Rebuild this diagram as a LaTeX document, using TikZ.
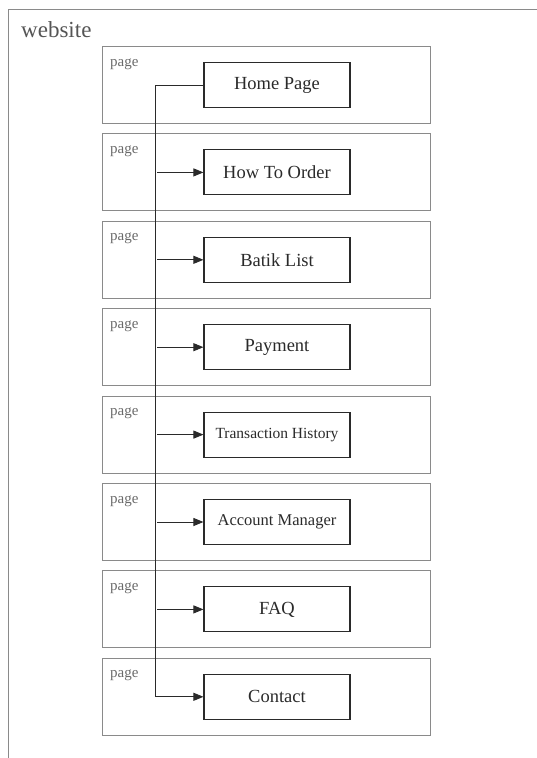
\documentclass[tikz,border=0pt]{standalone}
\usepackage{fontspec}
\setmainfont{Liberation Serif}
\usetikzlibrary{arrows.meta}
\definecolor{framegray}{HTML}{8A8A8A}
\definecolor{textgray}{HTML}{555555}
\definecolor{pagegray}{HTML}{6A6A6A}
\definecolor{inkdark}{HTML}{2A2A2A}
\begin{document}
\begin{tikzpicture}[x=1pt,y=-1pt,
  frameline/.style={draw=framegray, line width=1pt},
  pagebox/.style={draw=framegray, line width=1pt, minimum width=328pt, minimum height=77pt, anchor=north west, inner sep=0pt},
  pagelabel/.style={anchor=base west, text=pagegray, font=\fontsize{15}{15}\selectfont, inner sep=0pt},
  itembox/.style={draw=inkdark, line width=1.1pt, minimum width=146pt, minimum height=45pt, inner sep=0pt, text=inkdark},
  link/.style={draw=inkdark, line width=0.9pt},
  linkarrow/.style={link, -{Triangle[length=10pt,width=8pt]}}
]
\useasboundingbox (0,0) rectangle (536,758);
\draw[frameline] (8,758) -- (8,9) -- (537,9);
\node[anchor=base west, inner sep=0pt, text=textgray, font=\fontsize{23}{23}\selectfont] (web) at (21,37) {website};

\foreach \i/\t/\fs in {1/Home Page/18.5, 2/How To Order/18.5, 3/Batik List/18.5, 4/Payment/18.5, 5/Transaction History/15.5, 6/Account Manager/16.5, 7/FAQ/18.5, 8/Contact/18.5} {
  \pgfmathsetmacro{\top}{46+87.4*(\i-1)}
  \node[pagebox] (pg\i) at (102,\top) {};
  \node[pagelabel] (pl\i) at (110,\top+20) {page};
  \node[itembox, font=\fontsize{\fs}{\fs}\selectfont] (it\i) at (277,\top+39) {\t};
}

\coordinate (top) at (155,0 |- it1.west);
\coordinate (bot) at (155,0 |- it8.west);
\draw[link] (it1.west) -- (155,0 |- it1.west);
\draw[linkarrow] (it1.west -| 155,0) -- (it8.west -| 155,0) -- (it8.west);
\foreach \i in {2,...,7} {
  \coordinate (br\i) at (it\i.west -| 157,0);
  \draw[linkarrow] (br\i) -- (it\i.west);
}
\end{tikzpicture}
\end{document}
